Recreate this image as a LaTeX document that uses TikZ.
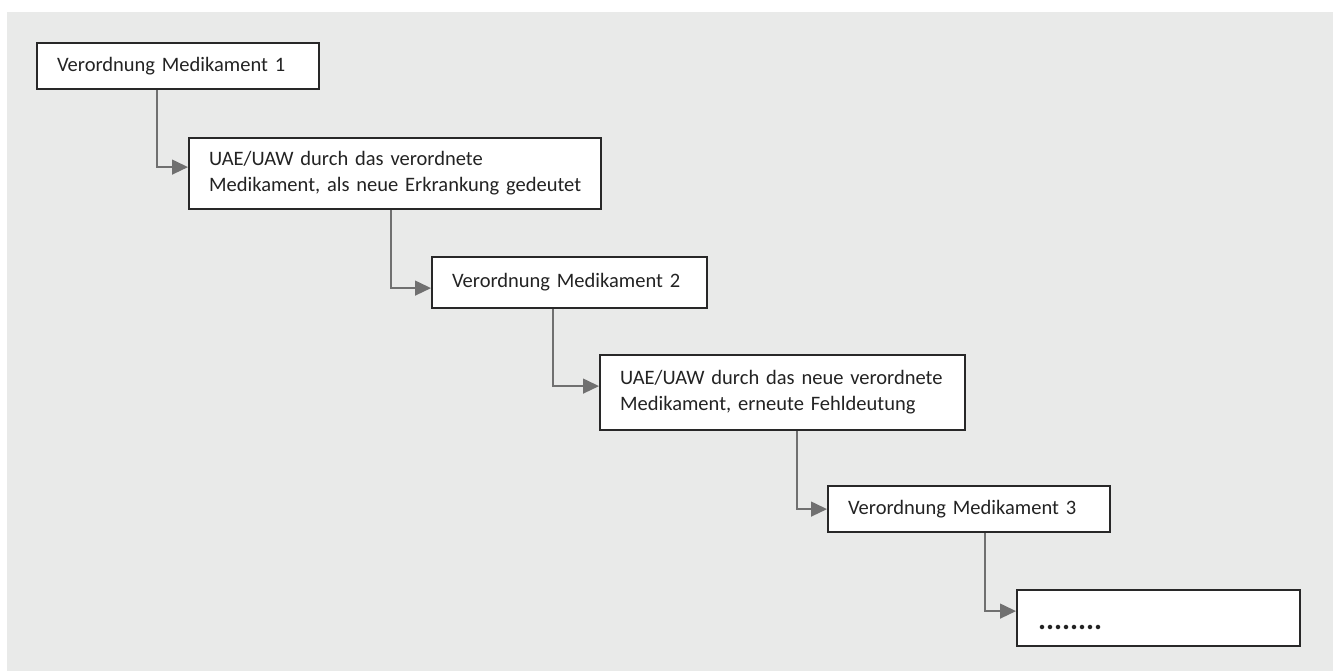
\documentclass[tikz,border=0pt]{standalone}
\usepackage{fontspec}
\setmainfont{Carlito}
\usetikzlibrary{arrows.meta}
\definecolor{bggray}{RGB}{233,234,233}
\definecolor{boxline}{RGB}{40,40,40}
\definecolor{connline}{RGB}{112,112,112}
\definecolor{txtgray}{RGB}{35,35,35}

\begin{document}
\begin{tikzpicture}[x=1pt,y=-1pt,
	medbox/.style={draw=boxline, fill=white, line width=2.2pt, anchor=north west,
		inner xsep=20pt, inner ysep=0pt, align=left, text=txtgray,
		font=\fontsize{20.5}{26}\selectfont},
	conn/.style={draw=connline, line width=1.3pt,
		-{Triangle[length=16pt,width=15pt]}}]
	\useasboundingbox (0,0) rectangle (1333,671);
	\fill[bggray] (7,12) rectangle (1333,671);
	\draw (36,42) node(m1) [medbox, minimum width=282pt, minimum height=46pt, text width=242pt] {Verordnung Medikament 1};
	\draw (188,137) node(u1) [medbox, minimum width=412pt, minimum height=71pt, text width=372pt] {\mbox{UAE/UAW durch das verordnete}\\\mbox{Medikament, als neue Erkrankung gedeutet}};
	\draw (431,256) node(m2) [medbox, minimum width=275pt, minimum height=51pt, text width=235pt] {Verordnung Medikament 2};
	\draw (599,354) node(u2) [medbox, minimum width=365pt, minimum height=75pt, text width=325pt] {\mbox{UAE/UAW durch das neue verordnete}\\\mbox{Medikament, erneute Fehldeutung}};
	\draw (827,485) node(m3) [medbox, minimum width=282pt, minimum height=46pt, text width=242pt] {Verordnung Medikament 3};
	\draw (1016,589) node(fw) [medbox, minimum width=281pt, minimum height=56pt, text width=241pt, inner xsep=21pt] {\fontsize{30}{30}\bfseries\selectfont\mbox{}\\[-4pt]........};
	\path[conn] ([xshift=121pt]m1.south west) |- ([yshift=6.5pt]u1.west);
	\path[conn] ([xshift=203pt]u1.south west) |- ([yshift=-5.5pt]m2.west);
	\path[conn] ([xshift=122pt]m2.south west) |- ([yshift=6.5pt]u2.west);
	\path[conn] ([xshift=198pt]u2.south west) |- (m3.west);
	\path[conn] ([xshift=158pt]m3.south west) |- ([yshift=7pt]fw.west);
\end{tikzpicture}
\end{document}
